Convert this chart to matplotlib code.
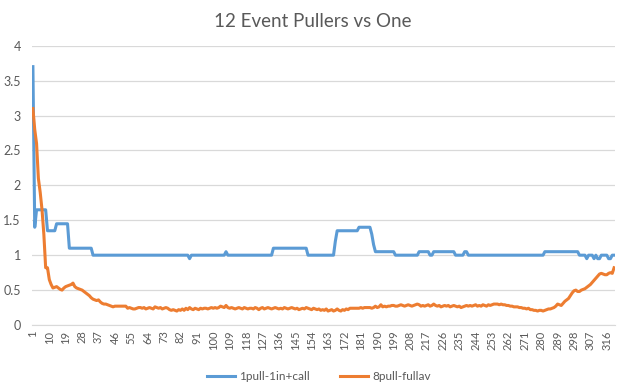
import numpy as np
import matplotlib.pyplot as plt

plt.rcParams['font.family'] = ['Lato', 'DejaVu Sans']

# Data (categories 1..320)
blue_vals = [
    3.7, 1.4, 1.65, 1.65, 1.65, 1.65, 1.65, 1.65, 1.35, 1.35, 1.35, 1.35, 1.35, 1.45, 1.45, 1.45, 1.45, 1.45, 1.45, 1.45,
    1.1, 1.1, 1.1, 1.1, 1.1, 1.1, 1.1, 1.1, 1.1, 1.1, 1.1, 1.1, 1.1, 1.0, 1.0, 1.0, 1.0, 1.0, 1.0, 1.0,
    1.0, 1.0, 1.0, 1.0, 1.0, 1.0, 1.0, 1.0, 1.0, 1.0, 1.0, 1.0, 1.0, 1.0, 1.0, 1.0, 1.0, 1.0, 1.0, 1.0,
    1.0, 1.0, 1.0, 1.0, 1.0, 1.0, 1.0, 1.0, 1.0, 1.0, 1.0, 1.0, 1.0, 1.0, 1.0, 1.0, 1.0, 1.0, 1.0, 1.0,
    1.0, 1.0, 1.0, 1.0, 1.0, 1.0, 0.95, 1.0, 1.0, 1.0, 1.0, 1.0, 1.0, 1.0, 1.0, 1.0, 1.0, 1.0, 1.0, 1.0,
    1.0, 1.0, 1.0, 1.0, 1.0, 1.0, 1.05, 1.0, 1.0, 1.0, 1.0, 1.0, 1.0, 1.0, 1.0, 1.0, 1.0, 1.0, 1.0, 1.0,
    1.0, 1.0, 1.0, 1.0, 1.0, 1.0, 1.0, 1.0, 1.0, 1.0, 1.0, 1.0, 1.1, 1.1, 1.1, 1.1, 1.1, 1.1, 1.1, 1.1,
    1.1, 1.1, 1.1, 1.1, 1.1, 1.1, 1.1, 1.1, 1.1, 1.1, 1.1, 1.0, 1.0, 1.0, 1.0, 1.0, 1.0, 1.0, 1.0, 1.0,
    1.0, 1.0, 1.0, 1.0, 1.0, 1.0, 1.2, 1.35, 1.35, 1.35, 1.35, 1.35, 1.35, 1.35, 1.35, 1.35, 1.35, 1.35, 1.35, 1.4,
    1.4, 1.4, 1.4, 1.4, 1.4, 1.4, 1.3, 1.15, 1.05, 1.05, 1.05, 1.05, 1.05, 1.05, 1.05, 1.05, 1.05, 1.05, 1.05, 1.0,
    1.0, 1.0, 1.0, 1.0, 1.0, 1.0, 1.0, 1.0, 1.0, 1.0, 1.0, 1.0, 1.05, 1.05, 1.05, 1.05, 1.05, 1.05, 1.0, 1.0,
    1.05, 1.05, 1.05, 1.05, 1.05, 1.05, 1.05, 1.05, 1.05, 1.05, 1.05, 1.05, 1.0, 1.0, 1.0, 1.0, 1.0, 1.05, 1.05, 1.0,
    1.0, 1.0, 1.0, 1.0, 1.0, 1.0, 1.0, 1.0, 1.0, 1.0, 1.0, 1.0, 1.0, 1.0, 1.0, 1.0, 1.0, 1.0, 1.0, 1.0,
    1.0, 1.0, 1.0, 1.0, 1.0, 1.0, 1.0, 1.0, 1.0, 1.0, 1.0, 1.0, 1.0, 1.0, 1.0, 1.0, 1.0, 1.0, 1.0, 1.0,
    1.0, 1.05, 1.05, 1.05, 1.05, 1.05, 1.05, 1.05, 1.05, 1.05, 1.05, 1.05, 1.05, 1.05, 1.05, 1.05, 1.05, 1.05, 1.05, 1.05,
    1.0, 1.0, 1.0, 1.0, 0.95, 1.0, 1.0, 1.0, 0.95, 1.0, 0.95, 0.95, 1.0, 1.0, 1.0, 1.0, 0.95, 0.95, 1.0, 1.0,
]

orange_vals = [
    3.1, 2.8, 2.6, 2.1, 1.9, 1.65, 1.3, 0.82, 0.82, 0.65, 0.58, 0.53, 0.54, 0.55, 0.53, 0.51, 0.50, 0.53, 0.55, 0.56,
    0.57, 0.58, 0.60, 0.55, 0.53, 0.52, 0.51, 0.50, 0.48, 0.46, 0.44, 0.42, 0.39, 0.37, 0.36, 0.35, 0.36, 0.33, 0.31, 0.30,
    0.30, 0.29, 0.28, 0.27, 0.26, 0.27, 0.27, 0.27, 0.27, 0.27, 0.27, 0.27, 0.24, 0.25, 0.24, 0.23, 0.23, 0.24, 0.25, 0.25,
    0.24, 0.25, 0.23, 0.24, 0.25, 0.24, 0.23, 0.26, 0.25, 0.24, 0.25, 0.23, 0.24, 0.25, 0.24, 0.22, 0.21, 0.22, 0.21, 0.20,
    0.22, 0.21, 0.23, 0.21, 0.24, 0.22, 0.25, 0.23, 0.22, 0.24, 0.23, 0.22, 0.24, 0.23, 0.24, 0.24, 0.23, 0.24, 0.25, 0.24,
    0.25, 0.24, 0.25, 0.27, 0.26, 0.25, 0.28, 0.25, 0.24, 0.25, 0.24, 0.23, 0.24, 0.25, 0.24, 0.23, 0.25, 0.24, 0.23, 0.24,
    0.24, 0.23, 0.25, 0.24, 0.22, 0.24, 0.25, 0.23, 0.24, 0.25, 0.24, 0.23, 0.24, 0.25, 0.24, 0.23, 0.24, 0.23, 0.25, 0.24,
    0.23, 0.24, 0.25, 0.24, 0.23, 0.24, 0.22, 0.23, 0.24, 0.23, 0.25, 0.24, 0.23, 0.22, 0.24, 0.23, 0.22, 0.23, 0.21, 0.22,
    0.21, 0.23, 0.20, 0.21, 0.22, 0.20, 0.21, 0.23, 0.21, 0.20, 0.22, 0.21, 0.23, 0.22, 0.24, 0.24, 0.24, 0.24, 0.24, 0.24,
    0.25, 0.24, 0.25, 0.25, 0.25, 0.25, 0.24, 0.25, 0.27, 0.25, 0.26, 0.29, 0.26, 0.27, 0.26, 0.27, 0.27, 0.28, 0.28, 0.27,
    0.27, 0.28, 0.29, 0.28, 0.27, 0.28, 0.29, 0.28, 0.27, 0.28, 0.29, 0.30, 0.29, 0.27, 0.28, 0.27, 0.28, 0.29, 0.27, 0.28,
    0.30, 0.28, 0.27, 0.28, 0.26, 0.27, 0.28, 0.27, 0.28, 0.26, 0.27, 0.28, 0.27, 0.26, 0.27, 0.25, 0.26, 0.27, 0.28, 0.27,
    0.28, 0.27, 0.28, 0.29, 0.27, 0.28, 0.27, 0.29, 0.28, 0.27, 0.29, 0.28, 0.29, 0.30, 0.30, 0.30, 0.29, 0.30, 0.29, 0.29,
    0.28, 0.28, 0.27, 0.27, 0.26, 0.26, 0.26, 0.25, 0.25, 0.24, 0.24, 0.23, 0.24, 0.22, 0.22, 0.21, 0.21, 0.20, 0.21, 0.21,
    0.20, 0.21, 0.22, 0.23, 0.23, 0.24, 0.25, 0.27, 0.30, 0.29, 0.28, 0.31, 0.34, 0.36, 0.38, 0.42, 0.46, 0.49, 0.50, 0.48,
    0.48, 0.50, 0.51, 0.52, 0.54, 0.56, 0.58, 0.61, 0.64, 0.67, 0.70, 0.73, 0.74, 0.73, 0.72, 0.72, 0.74, 0.75, 0.74, 0.82,
]

categories = np.arange(1, len(blue_vals) + 1)
tick_labels = [str(c) for c in range(1, len(blue_vals) + 1, 9)]

title = "12 Event Pullers vs One"
series_names = ["1pull-1in+call", "8pull-fullav"]
colors = ["#5B9BD5", "#ED7D31"]
text_color = "#595959"
grid_color = "#D9D9D9"

fig = plt.figure(figsize=(6.25, 3.89), dpi=100)
ax = fig.add_axes([0.0512, 0.1645, 0.9328, 0.718])

ax.plot(categories, blue_vals, color=colors[0], linewidth=2.2, label=series_names[0])
ax.plot(categories, orange_vals, color=colors[1], linewidth=2.2, label=series_names[1])

ax.set_xlim(0.5, len(blue_vals) + 0.5)
ax.set_ylim(0, 4)
ax.set_yticks(np.arange(0, 4.01, 0.5))
ax.set_yticklabels(["0", "0.5", "1", "1.5", "2", "2.5", "3", "3.5", "4"])
ax.set_xticks([int(t) for t in tick_labels])
ax.set_xticklabels(tick_labels, rotation=90)

ax.grid(axis="y", color=grid_color, linewidth=0.9)
ax.set_axisbelow(True)
for s in ["top", "right", "left"]:
    ax.spines[s].set_visible(False)
ax.spines["bottom"].set_color(grid_color)
ax.tick_params(axis="both", length=0, colors=text_color)
ax.tick_params(axis="x", labelsize=8, pad=4)
ax.tick_params(axis="y", labelsize=9, pad=8)

fig.text(0.5, 0.945, title, ha="center", va="center", fontsize=13.5, color=text_color)

fig.legend(loc="center", bbox_to_anchor=(0.51, 0.033), ncol=2, frameon=False,
           fontsize=8.5, labelcolor=text_color, handlelength=2.4, columnspacing=2.6,
           handletextpad=0.3)

fig.savefig("out.png", dpi=100)
